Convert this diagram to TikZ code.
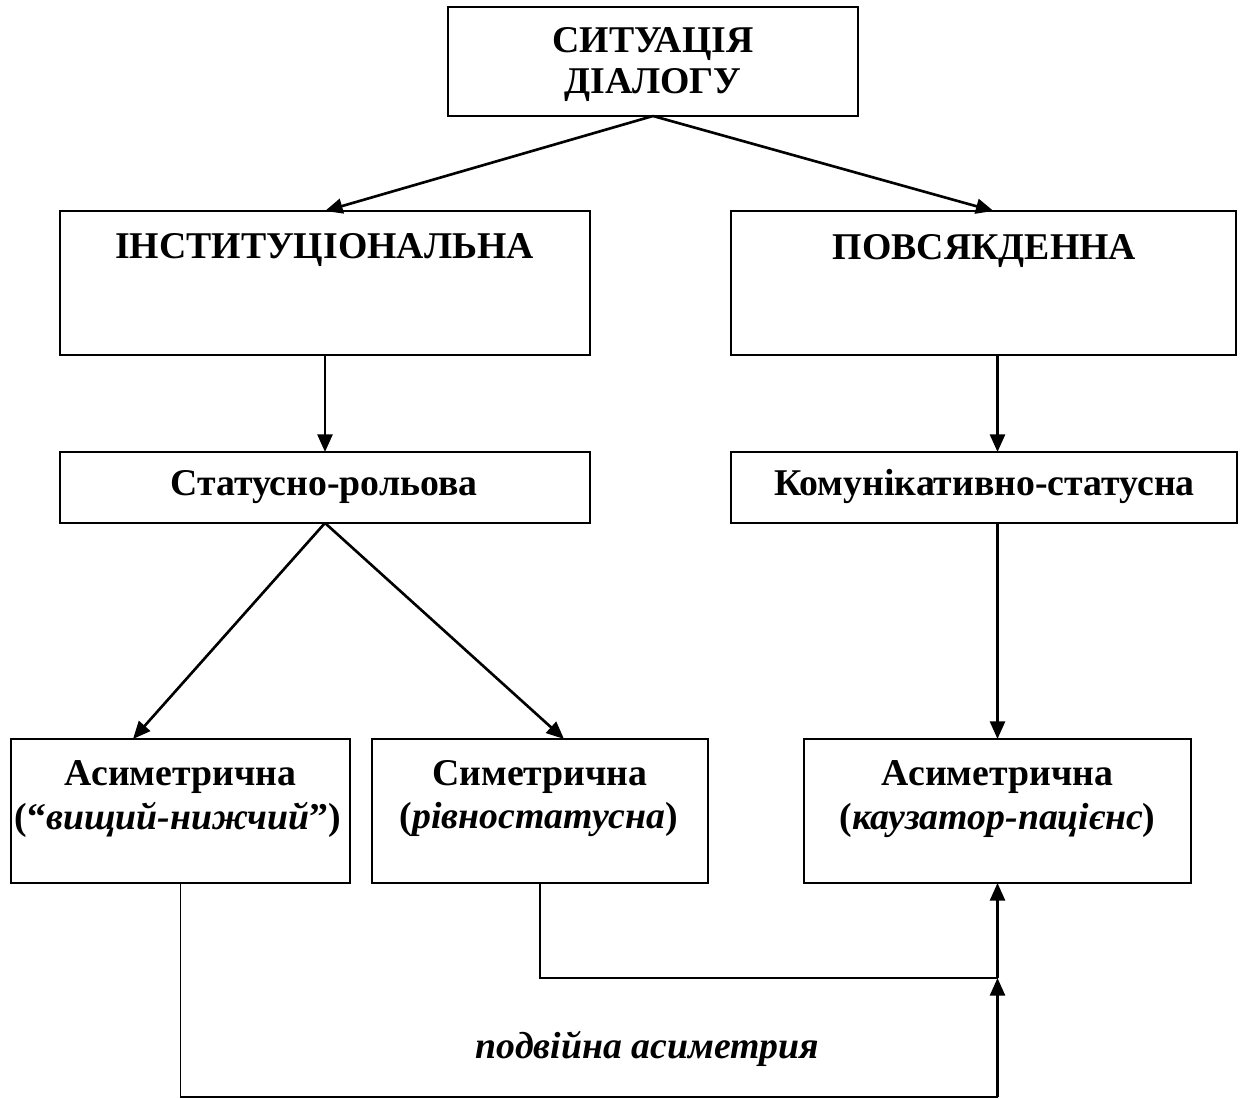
\documentclass[tikz,border=0pt]{standalone}
\usepackage{fontspec}
\setmainfont{Liberation Serif}
\usetikzlibrary{arrows.meta,calc}

\begin{document}
\begin{tikzpicture}[
  box/.style={draw, line width=1.1pt, rectangle, inner sep=0pt, outer sep=0pt},
  txt/.style={anchor=base, inner sep=0pt, font=\fontsize{21.5}{25}\selectfont\bfseries},
  arr/.style={line width=1.5pt, -{Triangle[length=10pt,width=8.5pt]}},
  lnk/.style={line width=1.1pt}
]
\useasboundingbox (0,0) rectangle (24.8,-21.98);

% boxes
\node[box, minimum width=8.2cm,  minimum height=2.18cm] (top)  at (13.06,-1.23) {};
\node[box, minimum width=10.6cm, minimum height=2.88cm] (inst) at (6.5,-5.66) {};
\node[box, minimum width=10.1cm, minimum height=2.88cm] (povs) at (19.67,-5.66) {};
\node[box, minimum width=10.6cm, minimum height=1.42cm] (stat) at (6.5,-9.75) {};
\node[box, minimum width=10.12cm,minimum height=1.42cm] (kom)  at (19.68,-9.75) {};
\node[box, minimum width=6.78cm, minimum height=2.88cm] (asl)  at (3.61,-16.22) {};
\node[box, minimum width=6.72cm, minimum height=2.88cm] (sym)  at (10.8,-16.22) {};
\node[box, minimum width=7.74cm, minimum height=2.88cm] (asr)  at (19.95,-16.22) {};

% texts
\node[txt] (t1a) at (13.06,-1.06) {СИТУАЦІЯ};
\node[txt] (t1b) at (13.06,-1.88) {ДІАЛОГУ};
\node[txt] (t2)  at (6.49,-5.18) {ІНСТИТУЦІОНАЛЬНА};
\node[txt] (t3)  at (19.69,-5.2) {ПОВСЯКДЕННА};
\node[txt] (t4)  at (6.48,-9.92) {Статусно-рольова};
\node[txt] (t5)  at (19.69,-9.92) {Комунікативно-статусна};
\node[txt] (t6a) at (3.61,-15.7) {Асиметрична};
\node[txt] (t6b) at (3.56,-16.58) {(“\textit{вищий-нижчий}”)};
\node[txt] (t7a) at (10.8,-15.7) {Симетрична};
\node[txt] (t7b) at (10.78,-16.56) {(\textit{рівностатусна})};
\node[txt] (t8a) at (19.95,-15.7) {Асиметрична};
\node[txt] (t8b) at (19.95,-16.58) {(\textit{каузатор-пацієнс})};
\node[txt] (t9)  at (12.95,-21.16) {\textit{подвійна асиметрия}};

% joints of the lower connectors
\coordinate (j1) at ($(asr.south)+(0,-1.9)$);
\coordinate (j2) at ($(asr.south)+(0,-4.28)$);

% connectors
\draw[arr] (top.south) -- (inst.north);
\draw[arr] (top.south) -- ($(povs.north -| asr.north)+(-0.08,0)$);
\draw[arr] (inst.south) -- (stat.north);
\draw[arr] (povs.south -| asr.north) -- (kom.north -| asr.north);
\draw[arr] (stat.south) -- ($(asl.north)+(-0.95,0)$);
\draw[arr] (stat.south) -- ($(sym.north)+(0.48,0)$);
\draw[arr] (kom.south -| asr.north) -- (asr.north);
\draw[lnk] (sym.south) |- (j1);
\draw[arr] (j1) -- (asr.south);
\draw[lnk] (asl.south) |- (j2);
\draw[arr] (j2) -- (j1);
\end{tikzpicture}
\end{document}
